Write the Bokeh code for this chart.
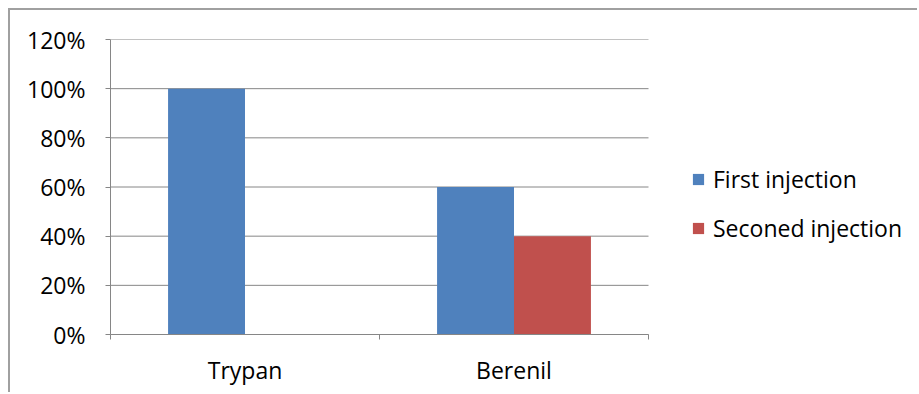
from bokeh.plotting import figure
from bokeh.models import ColumnDataSource, Range1d, FixedTicker, NumeralTickFormatter, Legend, LegendItem
from bokeh.transform import dodge
from bokeh.embed import file_html
from bokeh.resources import INLINE

categories = ["Trypan", "Berenil"]
first_injection = [1.00, 0.60]
second_injection = [0.00, 0.40]
y_ticks = [0, 0.2, 0.4, 0.6, 0.8, 1.0, 1.2]
series_names = ["First injection", "Seconed injection"]

FONT = "Open Sans"
FS = "23px"
GRID = "#868686"
BLUE = "#4F81BD"
RED = "#C0504D"

n = len(categories)
centers = [i + 0.5 for i in range(n)]
src = ColumnDataSource(dict(center=centers, cat=categories,
                            first=first_injection, second=second_injection))

# plot area spans 538 px for the categories; extra room on the right holds the legend
frame_px, cat_px = 809, 538
p = figure(width=909, height=384,
           x_range=Range1d(0, n * frame_px / cat_px), y_range=Range1d(0, 1.2),
           output_backend="svg", toolbar_location=None,
           min_border_left=100, min_border_right=0,
           min_border_top=29, min_border_bottom=60,
           margin=(8, 0, 0, 8),
           styles={"border-left": "2px solid #a0a0a0", "border-top": "2px solid #a0a0a0"})
p.outline_line_color = None
p.background_fill_color = "white"
p.border_fill_color = "white"
p.xgrid.visible = False
p.ygrid.visible = False

# horizontal gridlines across the category area only
p.segment(x0=[0] * len(y_ticks), x1=[n] * len(y_ticks), y0=y_ticks, y1=y_ticks,
          line_color=GRID, line_width=1)

r1 = p.vbar(x=dodge("center", -0.143, range=p.x_range), top="first", width=0.286,
            source=src, fill_color=BLUE, line_color=None)
r2 = p.vbar(x=dodge("center", 0.143, range=p.x_range), top="second", width=0.286,
            source=src, fill_color=RED, line_color=None)

# x axis
xa = p.xaxis[0]
xa.bounds = (0, n)
xa.ticker = FixedTicker(ticks=centers, minor_ticks=list(range(n + 1)))
xa.major_label_overrides = {c: lab for c, lab in zip(centers, categories)}
xa.major_tick_out = 0
xa.major_tick_in = 0
xa.minor_tick_out = 5
xa.minor_tick_in = 0
xa.minor_tick_line_color = GRID
xa.axis_line_color = GRID
xa.major_label_text_font = FONT
xa.major_label_text_font_size = FS
xa.major_label_text_color = "black"
xa.major_label_standoff = 14

# y axis
ya = p.yaxis[0]
ya.ticker = FixedTicker(ticks=y_ticks)
ya.formatter = NumeralTickFormatter(format="0%")
ya.major_tick_out = 5
ya.major_tick_in = 0
ya.minor_tick_out = 0
ya.minor_tick_in = 0
ya.major_tick_line_color = GRID
ya.axis_line_color = GRID
ya.major_label_text_font = FONT
ya.major_label_text_font_size = FS
ya.major_label_text_color = "black"
ya.major_label_standoff = 20

legend = Legend(items=[LegendItem(label=series_names[0], renderers=[r1]),
                       LegendItem(label=series_names[1], renderers=[r2])],
                location=(581, 90), glyph_width=14, glyph_height=14,
                label_standoff=8, padding=0, margin=0, spacing=17,
                border_line_color=None, background_fill_alpha=0,
                label_text_font=FONT, label_text_font_size=FS,
                label_text_color="black")
p.add_layout(legend, "center")

open("out.html", "w").write(file_html(p, INLINE))
